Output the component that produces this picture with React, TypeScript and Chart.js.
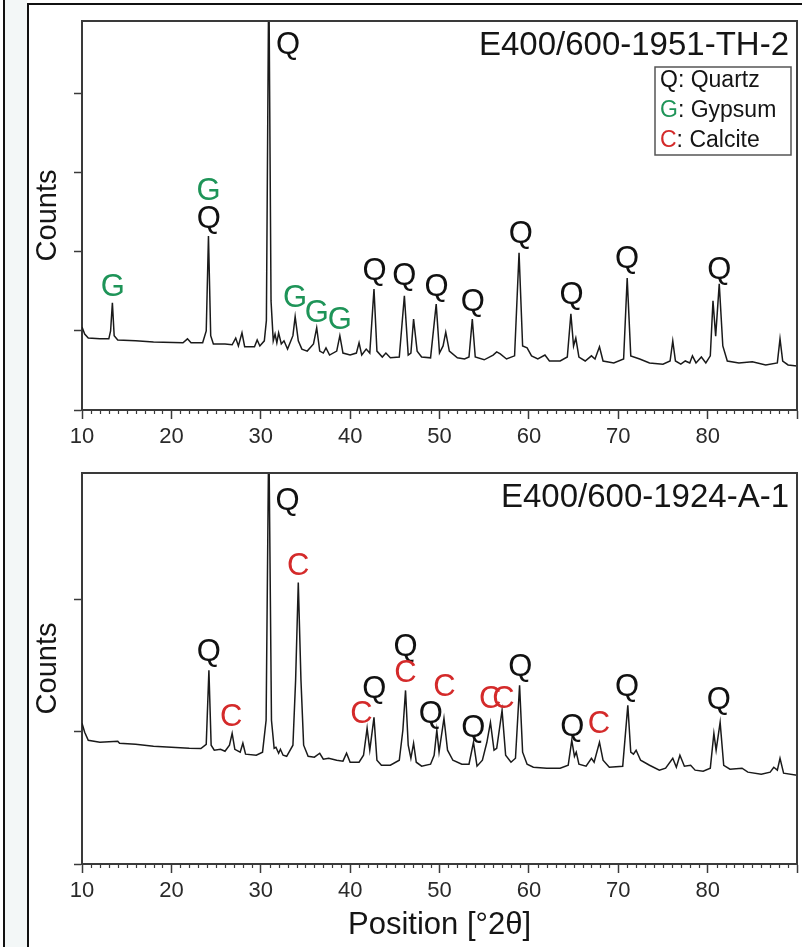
import React, { useEffect, useRef } from "react";
import { Chart, registerables } from "chart.js";

Chart.register(...registerables);

const FONT = '"Liberation Sans", Arial, Helvetica, sans-serif';

// ---------- Panel 1: E400/600-1951-TH-2 ----------
const p1Title = "E400/600-1951-TH-2";
const p1Theta = [
  10.0, 10.3, 10.7, 12.0, 13.0, 13.2, 13.4, 13.6, 14.0, 16.0,
  18.0, 21.3, 21.8, 22.2, 23.5, 23.9, 24.15, 24.4, 24.7, 26.0,
  26.8, 27.2, 27.5, 27.9, 28.2, 29.3, 29.6, 29.9, 30.4, 30.63,
  30.9, 31.15, 31.4, 31.6, 31.8, 32.0, 32.3, 32.6, 33.0, 33.6,
  33.85, 34.2, 34.6, 35.2, 35.9, 36.26, 36.6, 37.0, 37.3, 37.7,
  38.5, 38.85, 39.2, 40.0, 40.7, 41.0, 41.3, 41.8, 42.2, 42.67,
  43.0, 43.6, 44.0, 44.5, 45.5, 46.07, 46.5, 46.8, 47.1, 47.5,
  48.0, 49.0, 49.63, 50.0, 50.4, 50.7, 51.1, 52.0, 52.8, 53.3,
  53.67, 54.0, 55.0, 56.0, 56.4, 56.8, 57.5, 58.4, 58.9, 59.3,
  59.8, 60.3, 61.0, 61.8, 62.3, 63.5, 64.3, 64.7, 65.0, 65.25,
  65.6, 66.3, 67.0, 67.4, 67.9, 68.3, 69.5, 70.6, 71.0, 71.4,
  72.4, 73.5, 75.0, 75.8, 76.1, 76.4, 77.0, 77.5, 78.0, 78.3,
  78.7, 79.3, 79.8, 80.3, 80.6, 80.9, 81.3, 81.7, 82.2, 83.5,
  85.0, 86.5, 87.8, 88.1, 88.4, 89.0, 90.0,
];
const p1Counts = [
  1050, 960, 910, 900, 900, 1000, 1355, 940, 885, 875,
  860, 850, 900, 850, 850, 1000, 2200, 940, 835, 835,
  825, 910, 810, 975, 800, 800, 885, 810, 875, 1130,
  5600, 1380, 875, 960, 850, 975, 835, 875, 770, 940,
  1180, 875, 770, 745, 835, 1040, 745, 720, 785, 695,
  745, 940, 720, 695, 720, 850, 695, 770, 720, 1530,
  745, 670, 720, 660, 670, 1445, 695, 720, 1150, 745,
  670, 660, 1340, 720, 810, 985, 745, 660, 645, 670,
  1150, 670, 635, 695, 735, 710, 645, 685, 1990, 810,
  785, 685, 645, 695, 620, 620, 670, 1215, 810, 910,
  670, 620, 685, 645, 800, 620, 595, 645, 1670, 685,
  645, 595, 580, 620, 875, 620, 580, 620, 595, 685,
  595, 670, 595, 685, 1380, 935, 1595, 810, 620, 595,
  610, 570, 595, 900, 620, 570, 555,
];
const p1LabelText = ["G", "G", "Q", "Q", "G", "G", "G", "Q", "Q", "Q", "Q", "Q", "Q", "Q", "Q"];
const p1LabelTheta = [13.45, 24.15, 24.2, 33.06, 33.85, 36.26, 38.85, 42.74, 46.07, 49.67, 53.74, 59.1, 64.78, 70.98, 81.3];
const p1LabelCounts = [1548, 2760, 2405, 4608, 1405, 1215, 1127, 1750, 1686, 1548, 1358, 2222, 1443, 1899, 1770];
const p1YMax = 4920;
const p1YTicks = [0, 1000, 2000, 3000, 4000];

// ---------- Panel 2: E400/600-1924-A-1 ----------
const p2Title = "E400/600-1924-A-1";
const p2Theta = [
  10.0, 10.3, 10.7, 12.0, 14.0, 14.2, 16.0, 18.0, 20.0, 22.0,
  23.3, 23.9, 24.2, 24.45, 24.8, 25.5, 26.0, 26.5, 26.8, 27.1,
  27.7, 28.0, 28.3, 29.5, 30.2, 30.6, 30.9, 31.2, 31.5, 31.7,
  32.0, 32.2, 32.5, 32.9, 33.6, 33.9, 34.2, 34.5, 34.8, 35.3,
  36.0, 36.6, 37.0, 37.6, 38.5, 39.2, 39.6, 40.0, 41.0, 41.5,
  41.9, 42.2, 42.67, 43.0, 43.5, 44.5, 45.5, 45.9, 46.2, 46.5,
  46.8, 47.1, 47.4, 48.0, 49.0, 49.4, 49.7, 49.95, 50.5, 50.9,
  51.5, 52.5, 53.3, 53.8, 54.2, 54.8, 55.3, 55.7, 56.1, 56.4,
  57.0, 57.4, 58.0, 58.5, 58.96, 59.3, 59.8, 60.5, 62.0, 63.5,
  64.4, 64.8, 65.1, 65.3, 65.6, 66.4, 67.0, 67.3, 67.9, 68.3,
  69.0, 70.5, 71.07, 71.4, 71.7, 72.0, 72.5, 73.5, 74.6, 75.3,
  76.1, 76.5, 76.9, 77.4, 78.1, 78.6, 79.5, 80.3, 80.7, 80.95,
  81.4, 81.8, 82.5, 83.85, 84.5, 86.0, 87.0, 87.4, 87.8, 88.1,
  88.5, 90.0,
];
const p2Counts = [
  1066, 998, 937, 922, 930, 915, 907, 892, 884, 877,
  875, 907, 1467, 900, 862, 869, 854, 900, 990, 869,
  847, 915, 832, 824, 847, 1089, 3300, 1089, 877, 884,
  839, 869, 824, 816, 900, 1391, 2132, 1391, 900, 816,
  809, 839, 794, 801, 786, 779, 839, 771, 771, 824,
  1028, 862, 1111, 786, 748, 748, 786, 1013, 1315, 900,
  801, 915, 771, 741, 756, 824, 1013, 847, 1104, 862,
  786, 756, 756, 922, 741, 786, 922, 1073, 862, 877,
  1164, 824, 771, 801, 1353, 847, 756, 733, 726, 726,
  748, 937, 816, 847, 756, 741, 801, 771, 922, 786,
  733, 741, 1202, 847, 832, 862, 786, 748, 711, 726,
  801, 733, 824, 741, 748, 711, 703, 726, 990, 862,
  1073, 748, 718, 726, 696, 680, 696, 733, 711, 801,
  688, 673,
];
const p2LabelText = ["Q", "C", "Q", "C", "C", "Q", "Q", "C", "Q", "C", "Q", "C", "C", "Q", "Q", "C", "Q", "Q"];
const p2LabelTheta = [24.2, 26.7, 33.0, 34.2, 41.26, 42.7, 46.2, 46.2, 49.04, 50.55, 53.78, 55.67, 57.15, 59.03, 64.85, 67.83, 70.98, 81.26];
const p2LabelCounts = [1599, 1108, 2746, 2254, 1134, 1323, 1640, 1444, 1134, 1334, 1026, 1247, 1247, 1486, 1036, 1058, 1338, 1240];
const p2YMax = 2962;
const p2YTicks = [0, 1000, 2000];

// ---------- shared ----------
const xTicksMajor = [10, 20, 30, 40, 50, 60, 70, 80];
const legendLetters = ["Q", "G", "C"];
const legendNames = ["Quartz", "Gypsum", "Calcite"];
const mineralColors: Record<string, string> = { Q: "#111111", G: "#1e9458", C: "#d42a2a" };
const axisTitleX = "Position [°2θ]";
const axisTitleY = "Counts";

const AXIS_COLOR = "#3a3a3a";

const decorPlugin = {
  id: "xrdDecor",
  afterDatasetsDraw(chart: any, _args: any, opts: any) {
    const { ctx, chartArea } = chart;
    const xs = chart.scales.x;
    const ys = chart.scales.y;
    ctx.save();
    // top and right frame of plot box
    ctx.strokeStyle = AXIS_COLOR;
    ctx.lineWidth = 2;
    ctx.beginPath();
    ctx.moveTo(chartArea.left, chartArea.top);
    ctx.lineTo(chartArea.right, chartArea.top);
    ctx.lineTo(chartArea.right, chartArea.bottom);
    ctx.stroke();
    // minor ticks every 1 degree
    ctx.lineWidth = 1.2;
    ctx.beginPath();
    for (let v = Math.ceil(xs.min); v <= xs.max; v++) {
      if (v % 10 === 0) continue;
      const px = Math.round(xs.getPixelForValue(v)) + 0.5;
      ctx.moveTo(px, chartArea.bottom);
      ctx.lineTo(px, chartArea.bottom + 4);
    }
    ctx.stroke();
    // peak labels
    ctx.font = `31px ${FONT}`;
    ctx.textAlign = "center";
    ctx.textBaseline = "middle";
    const lt: string[] = opts.labelText;
    for (let i = 0; i < lt.length; i++) {
      ctx.fillStyle = mineralColors[lt[i]];
      ctx.fillText(lt[i], xs.getPixelForValue(opts.labelTheta[i]), ys.getPixelForValue(opts.labelCounts[i]));
    }
    // sample title
    ctx.font = `33px ${FONT}`;
    ctx.fillStyle = "#151515";
    ctx.textAlign = "right";
    ctx.fillText(opts.title, chartArea.right - 8, chartArea.top + 25);
    // legend
    if (opts.showLegend) {
      const bx = chartArea.right - 142;
      const by = chartArea.top + 46;
      ctx.fillStyle = "#ffffff";
      ctx.fillRect(bx, by, 136, 88);
      ctx.strokeStyle = "#555";
      ctx.lineWidth = 1.5;
      ctx.strokeRect(bx, by, 136, 88);
      ctx.font = `23px ${FONT}`;
      ctx.textAlign = "left";
      for (let i = 0; i < legendLetters.length; i++) {
        const y = by + 14 + i * 30;
        const L = legendLetters[i];
        ctx.fillStyle = mineralColors[L];
        ctx.fillText(L, bx + 5, y);
        const w = ctx.measureText(L).width;
        ctx.fillStyle = "#151515";
        ctx.fillText(": " + legendNames[i], bx + 5 + w, y);
      }
    }
    ctx.restore();
  },
};

type PanelProps = {
  top: number;
  height: number;
  plotTop: number;
  plotBottom: number;
  theta: number[];
  counts: number[];
  yMax: number;
  yTicks: number[];
  title: string;
  labelText: string[];
  labelTheta: number[];
  labelCounts: number[];
  showLegend: boolean;
  showXTitle: boolean;
};

function XrdPanel(p: PanelProps) {
  const ref = useRef<HTMLCanvasElement | null>(null);
  useEffect(() => {
    if (!ref.current) return;
    const xH = p.height - p.plotBottom;
    const chart = new Chart(ref.current, {
      type: "line",
      data: {
        datasets: [
          {
            data: p.theta.map((t, i) => ({ x: t, y: p.counts[i] })),
            borderColor: "#1a1a1a",
            borderWidth: 1.5,
            pointRadius: 0,
            tension: 0,
            fill: false,
          },
        ],
      },
      options: {
        responsive: false,
        animation: false,
        devicePixelRatio: 1,
        events: [],
        layout: { padding: { left: 0, top: p.plotTop, right: 1, bottom: 0 } },
        plugins: {
          legend: { display: false },
          tooltip: { enabled: false },
          title: { display: false },
          xrdDecor: {
            title: p.title,
            labelText: p.labelText,
            labelTheta: p.labelTheta,
            labelCounts: p.labelCounts,
            showLegend: p.showLegend,
          },
        } as any,
        scales: {
          x: {
            type: "linear",
            min: 10,
            max: 90,
            afterFit: (s: any) => {
              s.height = xH;
            },
            ticks: {
              stepSize: 10,
              autoSkip: false,
              maxRotation: 0,
              padding: 5,
              color: "#2a2a2a",
              font: { size: 22, family: FONT },
              callback: (v: any) => (xTicksMajor.includes(Number(v)) ? String(v) : ""),
            },
            grid: {
              drawOnChartArea: false,
              drawTicks: true,
              tickLength: 9,
              tickColor: AXIS_COLOR,
              tickWidth: 1.5,
            },
            border: { display: true, color: AXIS_COLOR, width: 2 },
            title: {
              display: p.showXTitle,
              text: axisTitleX,
              color: "#151515",
              font: { size: 31, family: FONT },
              padding: { top: 0, bottom: 3 },
            },
          },
          y: {
            type: "linear",
            min: 0,
            max: p.yMax,
            afterBuildTicks: (s: any) => {
              s.ticks = p.yTicks.map((v) => ({ value: v }));
            },
            afterFit: (s: any) => {
              s.width = 82;
            },
            ticks: { display: false },
            grid: {
              drawOnChartArea: false,
              drawTicks: true,
              tickLength: 8,
              tickColor: AXIS_COLOR,
              tickWidth: 1.5,
            },
            border: { display: true, color: AXIS_COLOR, width: 2 },
            title: {
              display: true,
              text: axisTitleY,
              color: "#151515",
              font: { size: 29, family: FONT },
              padding: { top: 31, bottom: 0 },
            },
          },
        },
      } as any,
      plugins: [decorPlugin],
    });
    return () => chart.destroy();
  }, []);
  return (
    <canvas
      ref={ref}
      width={802}
      height={p.height}
      style={{ position: "absolute", left: 0, top: p.top, width: 802, height: p.height }}
    />
  );
}

export default function App() {
  return (
    <div
      style={{
        position: "absolute",
        left: 0,
        top: 0,
        width: 802,
        height: 947,
        overflow: "hidden",
        background: "#ffffff",
      }}
    >
      <div style={{ position: "absolute", left: 5, top: 0, width: 22, height: 947, background: "#f3f7f7" }} />
      <div style={{ position: "absolute", left: 3, top: 0, width: 2, height: 947, background: "#111" }} />
      <div style={{ position: "absolute", left: 27, top: 3, width: 2, height: 944, background: "#111" }} />
      <div style={{ position: "absolute", left: 27, top: 3, width: 775, height: 2, background: "#111" }} />
      <XrdPanel
        top={0}
        height={460}
        plotTop={21}
        plotBottom={410}
        theta={p1Theta}
        counts={p1Counts}
        yMax={p1YMax}
        yTicks={p1YTicks}
        title={p1Title}
        labelText={p1LabelText}
        labelTheta={p1LabelTheta}
        labelCounts={p1LabelCounts}
        showLegend={true}
        showXTitle={false}
      />
      <XrdPanel
        top={460}
        height={487}
        plotTop={13}
        plotBottom={404}
        theta={p2Theta}
        counts={p2Counts}
        yMax={p2YMax}
        yTicks={p2YTicks}
        title={p2Title}
        labelText={p2LabelText}
        labelTheta={p2LabelTheta}
        labelCounts={p2LabelCounts}
        showLegend={false}
        showXTitle={true}
      />
    </div>
  );
}
